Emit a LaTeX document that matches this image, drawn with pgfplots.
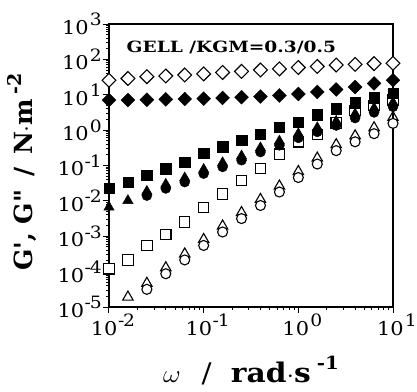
\documentclass[border=0pt]{standalone}
\usepackage{fontspec}
\setmainfont{DejaVu Serif}
\usepackage{pgfplots}
\pgfplotsset{compat=1.18}
\newcommand{\tl}[1]{\scalebox{1.1}[1]{10\hspace{0.06em}\raisebox{0.45em}{\fontsize{17}{17}\selectfont #1}}}
\newcommand{\tn}[1]{\tl{\kern-0.04em-\kern-0.06em#1}}
\begin{document}
\begin{tikzpicture}
\useasboundingbox (-109pt,-84pt) rectangle (308pt,307pt);
\begin{axis}[
  at={(0,0)}, anchor=south west,
  scale only axis, width=284pt, height=283pt,
  xmode=log, ymode=log,
  xmin=1e-2, xmax=1e1, ymin=1e-5, ymax=1e3,
  axis line style={line width=2.6pt},
  tick align=outside, tick pos=left,
  major tick length=6pt,
  every tick/.style={black, line width=1pt},
  minor tick num=0,
  xtick={1e-2,1e-1,1,1e1},
  xticklabels={\tn{2},\tn{1},\tl{0},\tl{1}},
  ytick={1e-5,1e-4,1e-3,1e-2,1e-1,1,1e1,1e2,1e3},
  yticklabels={\tn{5},\tn{4},\tn{3},\tn{2},\tn{1},\tl{0},\tl{1},\tl{2},\tl{3}},
  /pgf/number format/assume math mode=true,
  ticklabel style={font=\fontsize{19}{22}\selectfont},
  xticklabel style={xshift=4pt, inner sep=1pt},
  yticklabel style={inner sep=1pt},
  clip=false,
  xlabel={\scalebox{1.1}[1]{$\omega$\hspace{0.7em}/\hspace{0.65em}\textbf{rad$\cdot$s\hspace{0.2em}\raisebox{0.45em}{\fontsize{18}{18}\selectfont -1}}}},
  xlabel style={font=\fontsize{27}{30}\selectfont, at={(axis description cs:0.5,-0.265)}, anchor=base},
  ylabel={\textbf{G\textquotesingle, G\textquotedbl{} \,/\, N$\cdot$m\,\raisebox{0.45em}{\fontsize{19}{19}\selectfont -2}}},
  ylabel style={font=\fontsize{25}{28}\selectfont, at={(axis description cs:-0.268,0.477)}, anchor=base},
]
% open triangles
\addplot[only marks, mark=triangle, mark size=6pt, line width=1.1pt] coordinates {
(0.01585,1.91e-5)(0.02512,4.68e-5)(0.03981,1.29e-4)(0.0631,3.16e-4)(0.1,8.13e-4)(0.1585,1.95e-3)(0.2512,4.68e-3)(0.3981,0.0110)(0.631,0.0263)(1,0.0676)(1.585,0.162)(2.512,0.389)(3.981,0.692)(6.31,1.17)(10,2.29)};
% open circles
\addplot[only marks, mark=*, mark size=5pt, mark options={fill=white, draw=black}, line width=1.1pt] coordinates {
(0.02512,3.16e-5)(0.03981,8.71e-5)(0.0631,2.14e-4)(0.1,5.50e-4)(0.1585,1.32e-3)(0.2512,3.16e-3)(0.3981,7.41e-3)(0.631,0.0178)(1,0.0457)(1.585,0.110)(2.512,0.263)(3.981,0.468)(6.31,0.794)(10,1.55)};
% open squares
\addplot[only marks, mark=square*, mark size=5.2pt, mark options={fill=white, draw=black}, line width=1.1pt] coordinates {
(0.01,1.20e-4)(0.01585,2.14e-4)(0.02512,5.50e-4)(0.03981,1.12e-3)(0.0631,2.51e-3)(0.1,6.46e-3)(0.1585,0.0158)(0.2512,0.0380)(0.3981,0.0813)(0.631,0.209)(1,0.468)(1.585,0.741)(2.512,1.58)(3.981,3.55)(6.31,5.01)(10,7.08)};
% filled triangles
\addplot[only marks, mark=triangle*, mark size=6pt, fill=black, draw=black] coordinates {
(0.01,0.00661)(0.01585,0.0102)(0.02512,0.0186)(0.03981,0.0295)(0.0631,0.0447)(0.1,0.0776)(0.1585,0.120)(0.2512,0.186)(0.3981,0.316)(0.631,0.490)(1,0.794)(1.585,1.17)(2.512,1.78)(3.981,2.88)(6.31,4.17)(10,6.03)};
% filled circles
\addplot[only marks, mark=*, mark size=5pt, fill=black, draw=black] coordinates {
(0.02512,0.0141)(0.03981,0.0224)(0.0631,0.0339)(0.1,0.0589)(0.1585,0.0912)(0.2512,0.141)(0.3981,0.240)(0.631,0.372)(1,0.603)(1.585,0.891)(2.512,1.35)(3.981,2.19)(6.31,3.16)(10,4.57)};
% filled squares
\addplot[only marks, mark=square*, mark size=5.2pt, fill=black, draw=black] coordinates {
(0.01,0.0224)(0.01585,0.0339)(0.02512,0.0525)(0.03981,0.0813)(0.0631,0.126)(0.1,0.219)(0.1585,0.339)(0.2512,0.513)(0.3981,0.759)(0.631,1.23)(1,1.70)(1.585,2.75)(2.512,4.07)(3.981,6.03)(6.31,8.32)(10,10.96)};
% open diamonds
\addplot[only marks, mark=square*, mark size=4.9pt, mark options={rotate=45, fill=white, draw=black}, line width=1.1pt] coordinates {
(0.01,25.7)(0.01585,28.8)(0.02512,32.4)(0.03981,33.9)(0.0631,36.3)(0.1,38.9)(0.1585,42.7)(0.2512,45.7)(0.3981,50.1)(0.631,53.7)(1,58.9)(1.585,63.1)(2.512,69.2)(3.981,72.4)(6.31,75.9)(10,77.6)};
% filled diamonds
\addplot[only marks, mark=square*, mark size=4.9pt, mark options={rotate=45}, fill=black, draw=black] coordinates {
(0.01,7.08)(0.01585,7.08)(0.02512,7.24)(0.03981,7.41)(0.0631,7.59)(0.1,7.76)(0.1585,8.13)(0.2512,8.51)(0.3981,8.91)(0.631,9.55)(1,10.5)(1.585,12.0)(2.512,14.1)(3.981,16.6)(6.31,20.9)(10,25.7)};
\node[anchor=base west, font=\bfseries\fontsize{15.5}{18}\selectfont] at (axis description cs:0.05,0.901) {\scalebox{1.2}[1]{GELL /KGM=0.3/0.5}};
\end{axis}
\end{tikzpicture}
\end{document}
